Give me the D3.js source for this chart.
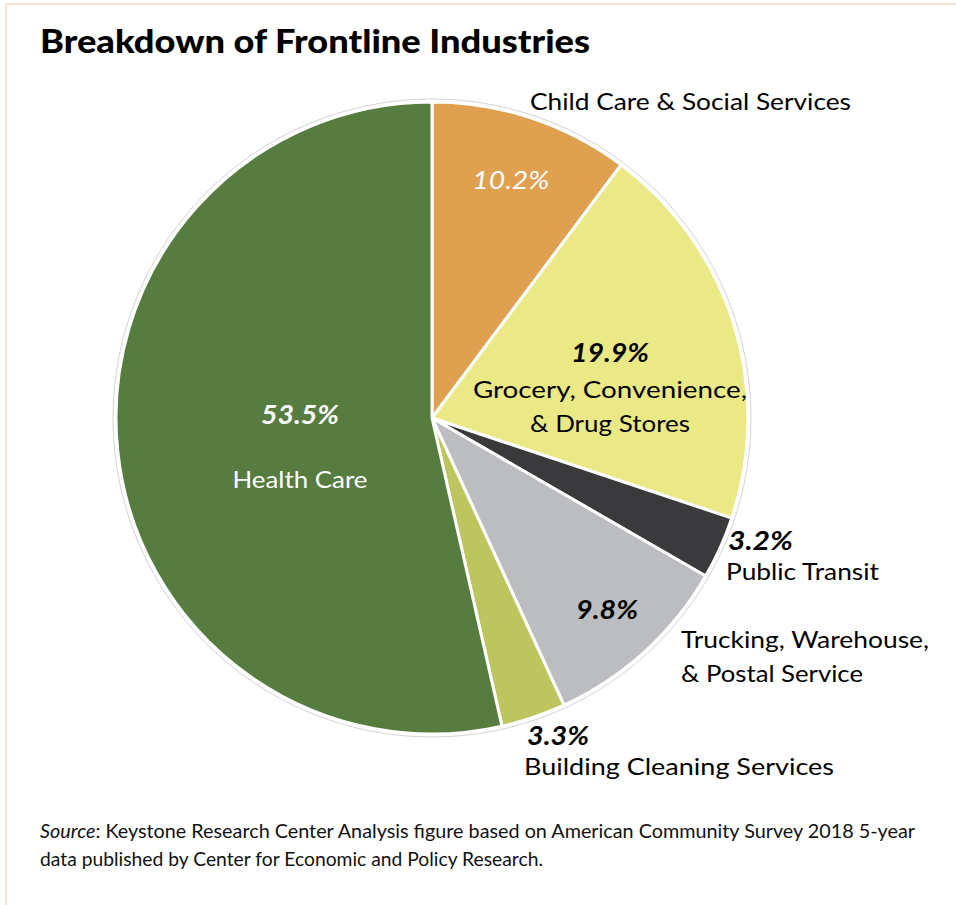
<!DOCTYPE html>
<html>
<head>
<meta charset="utf-8">
<script src="https://cdn.jsdelivr.net/npm/d3@7"></script>
<style>
  html, body { margin: 0; padding: 0; background: #fff; }
  svg { display: block; }
  text { font-family: Lato, "Open Sans", sans-serif; }
</style>
</head>
<body>
<svg id="chart" width="956" height="905"></svg>
<script>
// Share of frontline workers by industry (percent), clockwise from 12 o'clock
const industries = [
  "Child Care & Social Services",
  "Grocery, Convenience, & Drug Stores",
  "Public Transit",
  "Trucking, Warehouse, & Postal Service",
  "Building Cleaning Services",
  "Health Care"
];
const shares = [10.2, 19.9, 3.2, 9.8, 3.3, 53.5];
const labelLines = [
  ["Child Care & Social Services"],
  ["Grocery, Convenience,", "& Drug Stores"],
  ["Public Transit"],
  ["Trucking, Warehouse,", "& Postal Service"],
  ["Building Cleaning Services"],
  ["Health Care"]
];
const colors = ["#dfa04f", "#ebe985", "#3a3a3c", "#bcbdc0", "#bcc55e", "#577c3f"];

const svg = d3.select("#chart");
const W = 956, H = 905;
const cx = 432, cy = 418, R = 316;

// thin peach frame along the top and left
svg.append("line").attr("x1", 6).attr("y1", 4).attr("x2", W).attr("y2", 4)
  .attr("stroke", "#fbe3d4").attr("stroke-width", 2);
svg.append("line").attr("x1", 6).attr("y1", 4).attr("x2", 6).attr("y2", H)
  .attr("stroke", "#fbe3d4").attr("stroke-width", 2);

// title
svg.append("text")
  .attr("x", 40).attr("y", 53)
  .attr("font-size", 33).attr("font-weight", 900)
  .attr("textLength", 550).attr("lengthAdjust", "spacingAndGlyphs")
  .attr("fill", "#000")
  .text("Breakdown of Frontline Industries");

const data = industries.map((name, i) => ({ name, value: shares[i], color: colors[i], lines: labelLines[i] }));

const pie = d3.pie().sort(null).value(d => d.value);
const arcs = pie(data);
const arc = d3.arc().innerRadius(0).outerRadius(R);

const g = svg.append("g").attr("transform", `translate(${cx},${cy})`);

// faint outline round the pie
g.append("circle").attr("r", R + 3)
  .attr("fill", "none").attr("stroke", "#c8c8c8").attr("stroke-width", 0.8);

g.selectAll("path.slice")
  .data(arcs)
  .join("path")
  .attr("class", "slice")
  .attr("d", arc)
  .attr("fill", d => d.data.color)
  .attr("stroke", "#fff")
  .attr("stroke-width", 3)
  .attr("stroke-linejoin", "round");

const pct = v => v.toFixed(1) + "%";
const polar = (d, r) => {
  const a = (d.startAngle + d.endAngle) / 2;
  return [r * Math.sin(a), -r * Math.cos(a)];
};

// label layout, relative to the pie centre
const labelLayout = [
  { valR: 250, valFill: "#fff", valWeight: 400, valDy: 8, valAnchor: "middle",
    nameX: 530 - cx, nameY: 110 - cy, nameAnchor: "start", nameLen: [321] },
  { valAt: [610 - cx, 362 - cy], valFill: "#000", valWeight: 700, valAnchor: "middle",
    nameIn: true, nameGap: [36, 70], nameLen: [274, 160] },
  { valAt: [728 - cx, 550 - cy], valFill: "#000", valWeight: 700, valAnchor: "start",
    nameX: 726 - cx, nameY: 580 - cy, nameAnchor: "start", nameLen: [153] },
  { valAt: [607 - cx, 619 - cy], valFill: "#000", valWeight: 700, valAnchor: "middle",
    nameX: 681 - cx, nameY: 648 - cy, nameAnchor: "start", nameLen: [248, 182] },
  { valAt: [527 - cx, 745 - cy], valFill: "#000", valWeight: 700, valAnchor: "start",
    nameX: 524 - cx, nameY: 775 - cy, nameAnchor: "start", nameLen: [310] },
  { valAt: [300 - cx, 424 - cy], valFill: "#fff", valWeight: 700, valAnchor: "middle",
    nameIn: true, nameGap: [64], nameLen: [135], nameFill: "#fff" }
];

const valLen = [77, 78, 65, 62, 62, 78];

arcs.forEach((d, i) => {
  const L = labelLayout[i];
  const [vx, vy] = L.valAt ? L.valAt : polar(d, L.valR);
  g.append("text")
    .attr("x", vx).attr("y", vy + (L.valDy || 0))
    .attr("text-anchor", L.valAnchor)
    .attr("font-size", 26).attr("font-style", "italic").attr("font-weight", L.valWeight)
    .attr("textLength", valLen[i]).attr("lengthAdjust", "spacingAndGlyphs")
    .attr("fill", L.valFill)
    .text(pct(d.data.value));

  d.data.lines.forEach((line, j) => {
    let x, y, anchor;
    if (L.nameIn) {
      x = vx; y = vy + L.nameGap[j]; anchor = "middle";
    } else {
      x = L.nameX; y = L.nameY + j * 34; anchor = L.nameAnchor;
    }
    g.append("text")
      .attr("x", x).attr("y", y)
      .attr("text-anchor", anchor)
      .attr("font-size", 24)
      .attr("fill", L.nameFill || "#000")
      .attr("textLength", L.nameLen[j]).attr("lengthAdjust", "spacingAndGlyphs")
      .text(line);
  });
});

// source note
const src = svg.append("text").attr("x", 40).attr("y", 838).attr("font-size", 19).attr("fill", "#111")
  .attr("textLength", 875).attr("lengthAdjust", "spacingAndGlyphs");
src.append("tspan").attr("font-style", "italic").text("Source");
src.append("tspan").text(": Keystone Research Center Analysis figure based on American Community Survey 2018 5-year");
svg.append("text").attr("x", 40).attr("y", 866).attr("font-size", 19).attr("fill", "#111")
  .attr("textLength", 503).attr("lengthAdjust", "spacingAndGlyphs")
  .text("data published by Center for Economic and Policy Research.");
</script>
</body>
</html>
